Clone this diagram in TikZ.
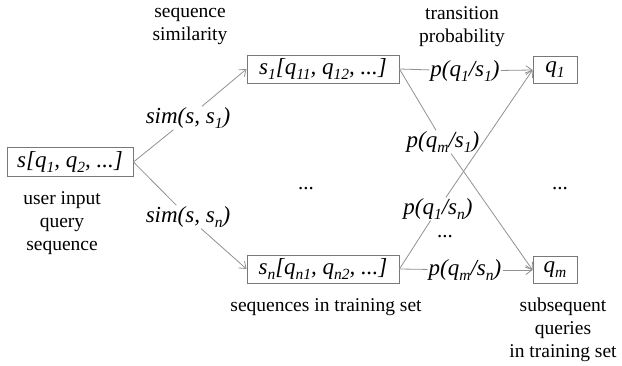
\documentclass[tikz,border=0pt]{standalone}
\usepackage{fontspec}
\setmainfont{Liberation Serif}
\usetikzlibrary{arrows.meta}
\definecolor{boxgray}{RGB}{120,120,120}
\definecolor{linegray}{RGB}{145,145,145}
\newcommand{\mysub}[1]{\raisebox{-0.22em}{\fontsize{15.5}{16}\selectfont #1}}
\begin{document}
\begin{tikzpicture}[x=1pt,y=-1pt,
 box/.style={draw=boxgray,line width=0.9pt,inner sep=0pt,font=\fontsize{23}{26}\selectfont\itshape},
 lbl/.style={inner sep=1pt,font=\fontsize{23}{26}\selectfont\itshape},
 txt/.style={align=center,inner sep=0pt,font=\fontsize{19.5}{23}\selectfont},
 dots/.style={inner sep=0pt,font=\fontsize{21}{23}\selectfont},
 ln/.style={draw=linegray,line width=0.8pt},
 arr/.style={ln,-{Straight Barb[length=6pt,width=9pt]}}]
\path[use as bounding box] (0,0) rectangle (622,366);

% boxes
\node[box,minimum width=126pt,minimum height=29pt] (s) at (70,162) {s[q\mysub{1}, q\mysub{2}, ...]};
\node[box,minimum width=152pt,minimum height=28pt] (s1) at (323,69) {s\mysub{1}[q\mysub{11}, q\mysub{12}, ...]};
\node[box,minimum width=152pt,minimum height=28pt] (sn) at (323,269) {s\mysub{n}[q\mysub{n1}, q\mysub{n2}, ...]};
\node[box,minimum width=44pt,minimum height=27pt] (q1) at (555,70) {q\mysub{1}};
\node[box,minimum width=44pt,minimum height=27pt] (qm) at (555,270) {q\mysub{m}};

% plain texts
\node[txt] (t1) at (62,223) {user input\\query\\sequence};
\node[txt] (t2) at (190,26) {sequence\\similarity};
\node[txt] (t3) at (462,27) {transition\\probability};
\node[txt] (t4) at (326,307) {sequences in training set};
\node[txt] (t5) at (563,330) {subsequent\\queries\\in training set};

% dots
\node[dots] (d1) at (306,189) {...};
\node[dots] (d2) at (560,189) {...};
\node[dots] (d3) at (445,237) {...};

% labels
\node[lbl] (sim1) at (188,118) {sim(s, s\mysub{1})};
\node[lbl] (simn) at (188,217) {sim(s, s\mysub{n})};
\node[lbl] (p11) at (465,71) {p(q\mysub{1}/s\mysub{1})};
\node[lbl] (pm1) at (443,142) {p(q\mysub{m}/s\mysub{1})};
\node[lbl] (p1n) at (438,209) {p(q\mysub{1}/s\mysub{n})};
\node[lbl] (pmn) at (465,270) {p(q\mysub{m}/s\mysub{n})};

% connectors
\draw[ln] (s.east) -- (sim1);
\draw[arr] (sim1) -- (s1.west);
\draw[ln] (s.east) -- (simn);
\draw[arr] (simn) -- (sn.west);

\draw[ln] (s1.east) -- (p11);
\draw[arr] (p11) -- (q1.west);
\draw[ln] (s1.east) -- (pm1);
\draw[arr] (pm1) -- (qm.west);
\draw[ln] (sn.east) -- (p1n);
\draw[arr] (p1n) -- (q1.west);
\draw[ln] (sn.east) -- (pmn);
\draw[arr] (pmn) -- (qm.west);
\end{tikzpicture}
\end{document}
